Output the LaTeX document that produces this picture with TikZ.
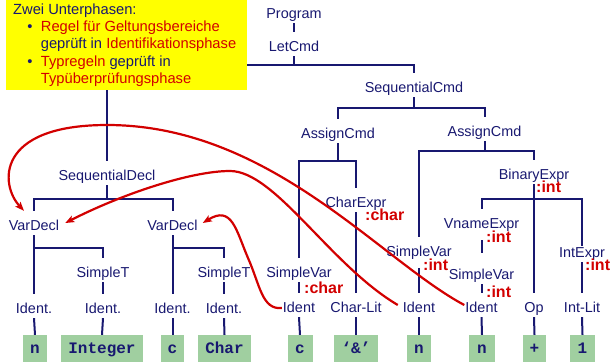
\documentclass[tikz,border=0pt]{standalone}
\usepackage{fontspec}
\setmainfont{Liberation Sans}
\newfontfamily\leaffont{Liberation Mono}
\usetikzlibrary{arrows.meta}
\definecolor{navy}{RGB}{24,24,112}
\definecolor{myred}{RGB}{210,0,0}
\definecolor{leafgreen}{RGB}{160,207,160}
\definecolor{noteyellow}{RGB}{255,255,0}
\newcommand\treebr[4]{%
  \draw[tree] (#1.south) -- (#1.south |- 0,#4);
  \draw[tree] (#2.north) |- (#3.north |- 0,#4) -- (#3.north);}
\begin{document}
\begin{tikzpicture}[x=1pt,y=-1pt,
  lbl/.style={anchor=base, text=navy, font=\fontsize{14.4}{17}\selectfont,
    text height=14pt, text depth=0pt, inner xsep=1pt, inner ysep=5pt},
  typ/.style={anchor=base west, text=myred, font=\fontsize{16}{18}\selectfont\bfseries, inner sep=0pt},
  tree/.style={draw=navy, line width=2pt},
  leaf/.style={fill=leafgreen, inner sep=0pt, minimum height=27pt, text height=9pt, text depth=0pt,
    font=\leaffont\bfseries\fontsize{16}{18}\selectfont, text=navy},
  ref/.style={draw=myred, line width=2.2pt, -{Stealth[length=9pt,width=7pt,inset=2pt]}},
  note/.style={fill=noteyellow, inner sep=0pt, anchor=north west},
  notetxt/.style={anchor=base west, inner sep=0pt, text=navy, font=\fontsize{14.7}{17}\selectfont},
  bul/.style={anchor=base, inner sep=0pt, text=navy, font=\fontsize{14.7}{17}\selectfont}
]
\useasboundingbox (0,0) rectangle (611,362);

% labels
\node[lbl] (prog) at (294,18) {Program};
\node[lbl] (let) at (294,51) {LetCmd};
\node[lbl] (scmd) at (414,92) {SequentialCmd};
\node[lbl] (ac1) at (338,138) {AssignCmd};
\node[lbl] (ac2) at (484.5,136) {AssignCmd};
\node[lbl] (be) at (534,179) {BinaryExpr};
\node[lbl] (sdecl) at (107,180) {SequentialDecl};
\node[lbl] (vd1) at (34,230) {VarDecl};
\node[lbl] (vd2) at (172.5,230) {VarDecl};
\node[lbl] (ce) at (356,207) {CharExpr};
\node[lbl] (st1) at (103,277) {SimpleT};
\node[lbl] (st2) at (224,277) {SimpleT};
\node[lbl] (idA) at (34,313) {Ident.};
\node[lbl] (idB) at (103,313) {Ident.};
\node[lbl] (idC) at (172.5,313) {Ident.};
\node[lbl] (idD) at (224,313) {Ident.};
\node[lbl] (sv1) at (299,277) {SimpleVar};
\node[lbl] (idc) at (299,312) {Ident};
\node[lbl] (cl) at (356,312) {Char-Lit};
\node[lbl] (sv2) at (419,256) {SimpleVar};
\node[lbl] (idn1) at (419,312) {Ident};
\node[lbl] (vn) at (481.5,228) {VnameExpr};
\node[lbl] (sv3) at (481.5,279) {SimpleVar};
\node[lbl] (idn2) at (481.5,312) {Ident};
\node[lbl] (op) at (534,312) {Op};
\node[lbl] (ie) at (582,257) {IntExpr};
\node[lbl] (il) at (582,312) {Int-Lit};

% type annotations
\node[typ] (t1) at (365,220) {:char};
\node[typ] (t2) at (304,293) {:char};
\node[typ] (t3) at (423,270) {:int};
\node[typ] (t4) at (536,192) {:int};
\node[typ] (t5) at (486,242) {:int};
\node[typ] (t6) at (486,297) {:int};
\node[typ] (t7) at (585,270) {:int};

% leaves
\node[leaf, minimum width=24pt] (lA) at (35,348.5) {n};
\node[leaf, minimum width=82pt] (lB) at (102,348.5) {Integer};
\node[leaf, minimum width=23pt] (lC) at (172.5,348.5) {c};
\node[leaf, minimum width=53pt] (lD) at (224.5,348.5) {Char};
\node[leaf, minimum width=25pt] (lE) at (300,348.5) {c};
\node[leaf, minimum width=44pt] (lF) at (356,348.5) {‘\&’};
\node[leaf, minimum width=24pt] (lG) at (419,348.5) {n};
\node[leaf, minimum width=26pt] (lH) at (482,348.5) {n};
\node[leaf, minimum width=23pt] (lI) at (534.5,348.5) {+};
\node[leaf, minimum width=25pt] (lJ) at (582.5,348.5) {1};

% tree edges
\draw[tree] (prog) -- (let);
\treebr{let}{sdecl}{scmd}{65}
\treebr{scmd}{ac1}{ac2}{108}
\treebr{sdecl}{vd1}{vd2}{199}
\treebr{vd1}{idA}{st1}{248}
\treebr{vd2}{idC}{st2}{248}
\treebr{ac1}{sv1}{ce}{161}
\treebr{ac2}{sv2}{be}{151}
\draw[tree] (be.south) -- (op.north);
\draw[tree] (vn.north) |- (ie.north |- 0,199) -- ([yshift=-8pt]ie.north);
\draw[tree] (st1) -- (idB);
\draw[tree] (st2) -- (idD);
\draw[tree] (sv1) -- (idc);
\draw[tree] (ce) -- (cl);
\draw[tree] ([yshift=-7pt]sv2.south) -- (idn1.north);
\draw[tree] ([yshift=-7pt]vn.south) -- ([yshift=7pt]sv3.north);
\draw[tree] (sv3) -- (idn2);
\draw[tree] (ie) -- (il);
\foreach \a/\b in {idA/lA, idB/lB, idC/lC, idD/lD, idc/lE, cl/lF, idn1/lG, idn2/lH, op/lI, il/lJ}
  \draw[tree] (\a.south) -- (\b.north);

% yellow note
\node[note, minimum width=241pt, minimum height=90pt] (note) at (6,0) {};
\node[notetxt] (n0) at (13,14) {Zwei Unterphasen:};
\node[bul] (b1) at (30,31) {•};
\node[notetxt] (n1) at (40.7,31) {\textcolor{myred}{Regel für Geltungsbereiche}};
\node[notetxt] (n2) at (40.7,48) {geprüft in \textcolor{myred}{Identifikationsphase}};
\node[bul] (b2) at (30,66) {•};
\node[notetxt] (n3) at (40.7,66) {\textcolor{myred}{Typregeln} geprüft in};
\node[notetxt] (n4) at (40.7,83) {\textcolor{myred}{Typüberprüfungsphase}};

% reference arrows
\draw[ref] (idn2.west) .. controls (380,260) and (270,125) .. (107,125)
  .. controls (-5,125) and (0,185) .. ([xshift=-10pt]vd1.north);
\draw[ref] ([xshift=-4pt]idn1.west) .. controls (330,265) and (275,171) .. (230,171)
  .. controls (190,171) and (120,195) .. ([xshift=5pt]vd1.east);
\draw[ref] ([yshift=-3pt]idc.west) .. controls (262,310) and (260,285) .. (248,258)
  .. controls (236,230) and (232,205) .. ([xshift=4pt]vd2.east);
\end{tikzpicture}
\end{document}
